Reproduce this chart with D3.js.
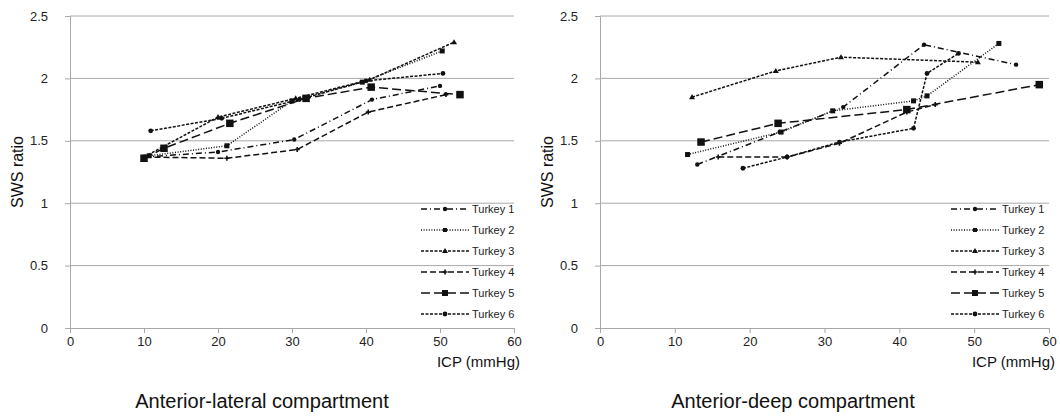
<!DOCTYPE html>
<html>
<head>
<meta charset="utf-8">
<script src="https://cdn.jsdelivr.net/npm/d3@7"></script>
<style>
  body { margin: 0; background: #fff; }
  text { font-family: "Liberation Sans", Arial, sans-serif; }
</style>
</head>
<body>
<div id="chart-area"></div>
<script>
// series names and tick labels
var seriesNames = ["Turkey 1", "Turkey 2", "Turkey 3", "Turkey 4", "Turkey 5", "Turkey 6"];
var xTicks = [0, 10, 20, 30, 40, 50, 60];
var yTicks = [0, 0.5, 1, 1.5, 2, 2.5];

// Anterior-lateral compartment  [ICP, SWS ratio]
var lateral1 = [[10, 1.37], [20, 1.41], [30.3, 1.51], [40.8, 1.83], [50, 1.94]];
var lateral2 = [[10.7, 1.38], [21.2, 1.46], [30, 1.82], [39.5, 1.97], [50.3, 2.22]];
var lateral3 = [[10, 1.37], [20, 1.69], [30.5, 1.84], [40.5, 1.99], [51.9, 2.29]];
var lateral4 = [[10.2, 1.37], [21.2, 1.36], [30.7, 1.43], [40.3, 1.73], [50.8, 1.87]];
var lateral5 = [[10, 1.36], [12.7, 1.44], [21.6, 1.64], [31.9, 1.84], [40.7, 1.93], [52.7, 1.87]];
var lateral6 = [[10.9, 1.58], [20.5, 1.68], [31, 1.83], [40, 1.98], [50.4, 2.04]];

// Anterior-deep compartment  [ICP, SWS ratio]
var deep1 = [[13, 1.31], [24, 1.57], [32.5, 1.77], [43.3, 2.27], [55.6, 2.11]];
var deep2 = [[11.7, 1.39], [24.2, 1.57], [31.1, 1.74], [41.9, 1.82], [43.7, 1.86], [53.3, 2.28]];
var deep3 = [[12.3, 1.85], [23.5, 2.06], [32.2, 2.17], [50.5, 2.13]];
var deep4 = [[15.8, 1.37], [25, 1.37], [32, 1.48], [41, 1.73], [44.8, 1.79]];
var deep5 = [[13.5, 1.49], [23.8, 1.64], [41, 1.75], [58.7, 1.95]];
var deep6 = [[19.1, 1.28], [25, 1.37], [32, 1.49], [41.9, 1.60], [43.7, 2.04], [47.9, 2.20]];

// line and marker style per turkey
var styles = [
  { dash: "6,3,1,3", marker: "dot", size: 2.2 },
  { dash: "1,1.6", marker: "square", size: 5 },
  { dash: "3,1.5", marker: "triangle", size: 3 },
  { dash: "6,3", marker: "cross", size: 2.5 },
  { dash: "9,4", marker: "square", size: 7.5 },
  { dash: "3,1.5", marker: "dot", size: 2.4 }
];

var svg = d3.select("#chart-area")
  .append("svg")
    .attr("width", 1060)
    .attr("height", 419);

function drawMarker(sel, st, x, y) {
  if (st.marker == "square") {
    sel.append("rect")
      .attr("x", x - st.size / 2).attr("y", y - st.size / 2)
      .attr("width", st.size).attr("height", st.size)
      .attr("fill", "#111");
  } else if (st.marker == "triangle") {
    var s = st.size;
    sel.append("path")
      .attr("d", "M" + x + "," + (y - s) + "L" + (x + s) + "," + (y + s * 0.7) + "L" + (x - s) + "," + (y + s * 0.7) + "Z")
      .attr("fill", "#111");
  } else if (st.marker == "cross") {
    sel.append("path")
      .attr("d", "M" + (x - 2.5) + "," + y + "h5M" + x + "," + (y - 2.5) + "v5")
      .attr("stroke", "#111").attr("stroke-width", 1.6);
  } else {
    sel.append("circle").attr("cx", x).attr("cy", y).attr("r", st.size).attr("fill", "#111");
  }
}

function panel(left, right, series, title, titleX, legendX) {
  var top = 16, bottom = 328;
  var x = d3.scaleLinear().domain([0, 60]).range([left, right]);
  var y = d3.scaleLinear().domain([0, 2.5]).range([bottom, top]);
  var g = svg.append("g");

  // gridlines
  g.selectAll(".grid").data(yTicks.filter(function (d) { return d > 0; }))
    .enter().append("line")
      .attr("x1", left).attr("x2", right)
      .attr("y1", function (d) { return y(d); })
      .attr("y2", function (d) { return y(d); })
      .attr("stroke", "#a8a8a8").attr("stroke-width", 1);

  var yAxis = g.append("g")
    .attr("transform", "translate(" + left + ",0)")
    .call(d3.axisLeft(y).tickValues(yTicks).tickSize(5).tickPadding(17).tickFormat(function (d) { return d; }));
  var xAxis = g.append("g")
    .attr("transform", "translate(0," + bottom + ")")
    .call(d3.axisBottom(x).tickValues(xTicks).tickSize(5).tickPadding(4));
  [xAxis, yAxis].forEach(function (a) {
    a.select(".domain").attr("stroke", "#a8a8a8");
    a.selectAll(".tick line").attr("stroke", "#a8a8a8");
    a.selectAll(".tick text").attr("fill", "#222").attr("font-size", 13)
      .style("font-family", "'Liberation Sans', Arial, sans-serif");
  });

  var line = d3.line().x(function (d) { return x(d[0]); }).y(function (d) { return y(d[1]); });

  series.forEach(function (s, i) {
    var st = styles[i];
    g.append("path").datum(s)
      .attr("d", line)
      .attr("fill", "none")
      .attr("stroke", "#111")
      .attr("stroke-width", 1.5)
      .attr("stroke-dasharray", st.dash);
    s.forEach(function (p) { drawMarker(g, st, x(p[0]), y(p[1])); });
  });

  // legend
  seriesNames.forEach(function (name, i) {
    var ly = 209 + i * 21;
    g.append("line")
      .attr("x1", legendX).attr("x2", legendX + 48)
      .attr("y1", ly).attr("y2", ly)
      .attr("stroke", "#111").attr("stroke-width", 1.3)
      .attr("stroke-dasharray", styles[i].dash);
    var ms = { marker: styles[i].marker, size: styles[i].marker == "square" && i == 4 ? 6 : Math.min(styles[i].size, 4) };
    drawMarker(g, ms, legendX + 24, ly);
    g.append("text")
      .attr("x", legendX + 51).attr("y", ly + 4)
      .attr("font-size", 11).attr("fill", "#222")
      .text(name);
  });

  // axis titles
  g.append("text")
    .attr("transform", "translate(" + (left - 47) + "," + ((top + bottom) / 2) + ") rotate(-90)")
    .attr("text-anchor", "middle")
    .attr("font-size", 16).attr("fill", "#111")
    .text("SWS ratio");
  g.append("text")
    .attr("x", right + 6).attr("y", 367)
    .attr("text-anchor", "end")
    .attr("font-size", 15).attr("fill", "#111")
    .text("ICP (mmHg)");
  g.append("text")
    .attr("x", titleX).attr("y", 408)
    .attr("text-anchor", "middle")
    .attr("font-size", 20).attr("fill", "#111")
    .text(title);
}

panel(70, 514, [lateral1, lateral2, lateral3, lateral4, lateral5, lateral6],
  "Anterior-lateral compartment", 262, 421);
panel(600, 1049, [deep1, deep2, deep3, deep4, deep5, deep6],
  "Anterior-deep compartment", 793, 951);
</script>
</body>
</html>
